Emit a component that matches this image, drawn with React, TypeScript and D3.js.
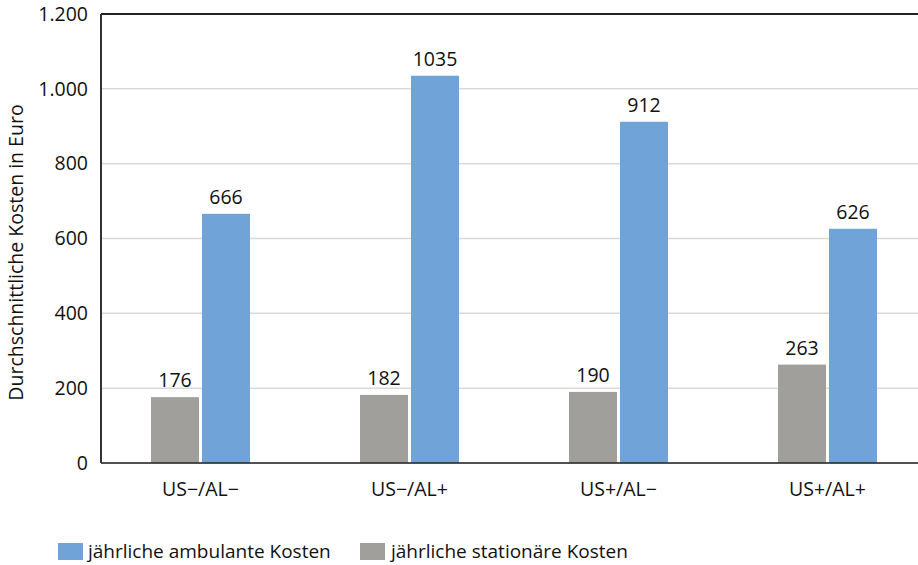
import React from "react";
import * as d3 from "d3";

const categories = ["US\u2212/AL\u2212", "US\u2212/AL+", "US+/AL\u2212", "US+/AL+"];
const stationaer = [176, 182, 190, 263];
const ambulant = [666, 1035, 912, 626];
const yTicks = [0, 200, 400, 600, 800, 1000, 1200];
const seriesNames = ["jährliche ambulante Kosten", "jährliche stationäre Kosten"];

const W = 918, H = 565;
const left = 101, right = 918, top = 14, bottom = 463;
const BLUE = "#70a3d8";
const GRAY = "#a09f9c";
const FONT = "'Open Sans', 'Noto Sans', sans-serif";

export default function App() {
  const y = d3.scaleLinear().domain([0, 1200]).range([bottom, top]);
  const x = d3.scaleBand<string>().domain(categories).range([96, 932]).paddingInner(0).paddingOuter(0);
  const barW = 48, gap = 3;
  const fmt = (v: number) => d3.format(",")(v).replace(/,/g, ".");
  return (
    <svg width={W} height={H} style={{ position: "absolute", left: 0, top: 0 }} fontFamily={FONT}>
      <rect x={0} y={0} width={W} height={H} fill="#fff" />
      {yTicks.filter(t => t > 0 && t < 1200).map(t => (
        <line key={t} x1={left} x2={right} y1={y(t)} y2={y(t)} stroke="#d9d9d9" strokeWidth={1.5} />
      ))}
      <line x1={left} x2={right} y1={top} y2={top} stroke="#222" strokeWidth={2} />
      <line x1={left} x2={left} y1={top} y2={bottom} stroke="#333" strokeWidth={2} />
      {yTicks.map(t => (
        <text key={t} x={88} y={y(t)} dy="0.35em" textAnchor="end" fontSize={19.5} fill="#111">{fmt(t)}</text>
      ))}
      <text transform={`translate(23,${(top + bottom) / 2 + 14}) rotate(-90)`} textAnchor="middle" fontSize={19.5} fill="#111">
        Durchschnittliche Kosten in Euro
      </text>
      {categories.map((c, i) => {
        const cx = (x(c) as number) + x.bandwidth() / 2;
        const gx = cx - gap / 2 - barW;
        const bx = cx + gap / 2;
        return (
          <g key={c}>
            <rect x={gx} y={y(stationaer[i])} width={barW} height={bottom - y(stationaer[i])} fill={GRAY} />
            <rect x={bx} y={y(ambulant[i])} width={barW} height={bottom - y(ambulant[i])} fill={BLUE} />
            <text x={gx + barW / 2} y={y(stationaer[i]) - 10} textAnchor="middle" fontSize={19.5} fill="#111">{stationaer[i]}</text>
            <text x={bx + barW / 2} y={y(ambulant[i]) - 10} textAnchor="middle" fontSize={19.5} fill="#111">{ambulant[i]}</text>
            <text x={cx} y={496} textAnchor="middle" fontSize={19.5} fill="#111">{c}</text>
          </g>
        );
      })}
      <line x1={left} x2={right} y1={bottom} y2={bottom} stroke="#333" strokeWidth={2} opacity={0.85} />
      <rect x={58} y={543} width={25} height={17} fill={BLUE} />
      <text x={88} y={558} fontSize={19} fill="#111">{seriesNames[0]}</text>
      <rect x={360} y={543} width={25} height={17} fill={GRAY} />
      <text x={391} y={558} fontSize={19} fill="#111">{seriesNames[1]}</text>
    </svg>
  );
}
